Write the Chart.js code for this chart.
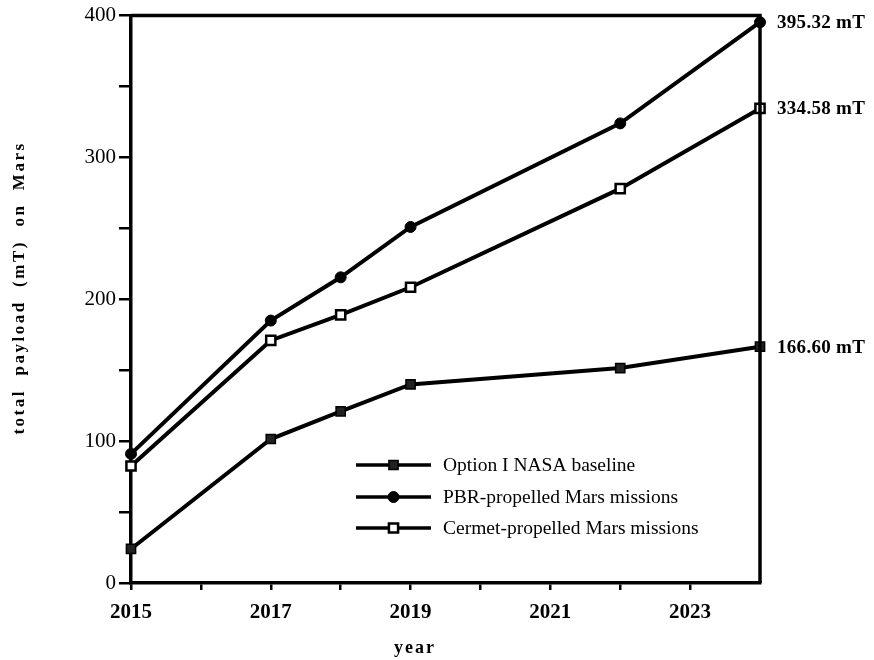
<!DOCTYPE html>
<html>
<head>
<meta charset="utf-8">
<script src="https://cdn.jsdelivr.net/npm/chart.js@4.4.1/dist/chart.umd.min.js"></script>
<style>
  html, body { margin: 0; padding: 0; background: #fff; }
  #wrap { width: 874px; height: 660px; }
</style>
</head>
<body>
<div id="wrap"><canvas id="payloadChart" width="874" height="660"></canvas></div>
<script>
// data
var years = [2015, 2017, 2018, 2019, 2022, 2024];
var nasaBaseline = [24, 101.5, 121, 140, 151.5, 166.6];
var pbrMissions = [91, 185, 215.5, 251, 324, 395.32];
var cermetMissions = [82.5, 171, 189, 208.5, 278, 334.58];
var seriesLabels = ["Option I NASA baseline", "PBR-propelled Mars missions", "Cermet-propelled Mars missions"];
var yTicks = [0, 100, 200, 300, 400];
var xTickLabels = [2015, 2017, 2019, 2021, 2023];

var serif = "'Liberation Serif', 'Times New Roman', serif";

function toPoints(vals) {
  return vals.map(function (v, i) { return { x: years[i], y: v }; });
}

// box around the plot (top and right sides)
var frame = {
  id: "frame",
  afterDraw: function (chart) {
    var a = chart.chartArea, ctx = chart.ctx;
    ctx.save();
    ctx.strokeStyle = "#000";
    ctx.lineWidth = 3.5;
    ctx.beginPath();
    ctx.moveTo(a.left, a.top);
    ctx.lineTo(a.right, a.top);
    ctx.lineTo(a.right, a.bottom);
    ctx.stroke();
    ctx.restore();
  }
};

// value labels at the end of each line
var endLabels = {
  id: "endLabels",
  afterDatasetsDraw: function (chart) {
    var ctx = chart.ctx;
    ctx.save();
    ctx.font = "bold 19px " + serif;
    ctx.fillStyle = "#000";
    ctx.textBaseline = "middle";
    ctx.letterSpacing = "0.3px";
    chart.data.datasets.forEach(function (ds, i) {
      var meta = chart.getDatasetMeta(i);
      var last = meta.data[meta.data.length - 1];
      var v = ds.data[ds.data.length - 1].y;
      ctx.fillText(v.toFixed(2) + " mT", last.x + 17, last.y + 1);
    });
    ctx.restore();
  }
};

// legend with line + marker inside the plot
var lineLegend = {
  id: "lineLegend",
  afterDraw: function (chart) {
    var ctx = chart.ctx;
    var x0 = 356, x1 = 431, tx = 443;
    var rows = [465, 497, 528];
    ctx.save();
    chart.data.datasets.forEach(function (ds, i) {
      var y = rows[i];
      ctx.strokeStyle = "#000";
      ctx.lineWidth = 3.5;
      ctx.beginPath();
      ctx.moveTo(x0, y);
      ctx.lineTo(x1, y);
      ctx.stroke();
      ctx.fillStyle = ds.pointBackgroundColor;
      ctx.strokeStyle = ds.pointBorderColor;
      ctx.lineWidth = ds.pointBorderWidth;
      Chart.helpers.drawPoint(ctx, { pointStyle: ds.pointStyle, radius: ds.pointRadius, borderWidth: ds.pointBorderWidth }, (x0 + x1) / 2, y);
      ctx.fillStyle = "#000";
      ctx.font = "19.5px " + serif;
      ctx.textBaseline = "middle";
      ctx.fillText(ds.label, tx, y + 1);
    });
    ctx.restore();
  }
};

// axis titles with wide letter spacing
var axisTitles = {
  id: "axisTitles",
  afterDraw: function (chart) {
    var ctx = chart.ctx;
    ctx.save();
    ctx.fillStyle = "#000";
    ctx.font = "bold 17px " + serif;
    ctx.letterSpacing = "2.5px";
    ctx.textAlign = "center";
    ctx.textBaseline = "middle";
    ctx.translate(20, 288);
    ctx.rotate(-Math.PI / 2);
    ctx.fillText("total  payload  (mT)  on  Mars", 0, 0);
    ctx.restore();
    ctx.save();
    ctx.fillStyle = "#000";
    ctx.font = "bold 18px " + serif;
    ctx.letterSpacing = "2px";
    ctx.textAlign = "center";
    ctx.textBaseline = "middle";
    ctx.fillText("year", 415, 648);
    ctx.restore();
  }
};

new Chart(document.getElementById("payloadChart").getContext("2d"), {
  type: "line",
  data: {
    datasets: [
      {
        label: seriesLabels[0],
        data: toPoints(nasaBaseline),
        borderColor: "#000",
        borderWidth: 4,
        pointStyle: "rect",
        pointRadius: 6.5,
        pointBackgroundColor: "#222",
        pointBorderColor: "#000",
        pointBorderWidth: 1.5
      },
      {
        label: seriesLabels[1],
        data: toPoints(pbrMissions),
        borderColor: "#000",
        borderWidth: 4,
        pointStyle: "circle",
        pointRadius: 5.5,
        pointBackgroundColor: "#000",
        pointBorderColor: "#000",
        pointBorderWidth: 1
      },
      {
        label: seriesLabels[2],
        data: toPoints(cermetMissions),
        borderColor: "#000",
        borderWidth: 4,
        pointStyle: "rect",
        pointRadius: 6.5,
        pointBackgroundColor: "#fff",
        pointBorderColor: "#000",
        pointBorderWidth: 2.5
      }
    ]
  },
  options: {
    responsive: false,
    animation: false,
    clip: false,
    layout: { padding: { top: 15, right: 114, left: 0, bottom: 0 } },
    plugins: {
      legend: { display: false },
      tooltip: { enabled: false }
    },
    scales: {
      x: {
        type: "linear",
        min: years[0],
        max: years[years.length - 1],
        afterFit: function (scale) { scale.height = 77; },
        afterBuildTicks: function (scale) {
          var t = [];
          for (var yr = years[0]; yr < years[years.length - 1]; yr++) t.push({ value: yr });
          scale.ticks = t;
        },
        ticks: {
          autoSkip: false,
          maxRotation: 0,
          color: "#000",
          padding: 10,
          font: { family: serif, size: 21, weight: "bold" },
          callback: function (v) { return xTickLabels.indexOf(v) >= 0 ? String(v) : ""; }
        },
        grid: { drawOnChartArea: false, drawTicks: true, tickLength: 7, color: "#000", lineWidth: 2.5 },
        border: { display: true, color: "#000", width: 3.5 }
      },
      y: {
        min: yTicks[0],
        max: yTicks[yTicks.length - 1],
        afterFit: function (scale) { scale.width = 131; },
        afterBuildTicks: function (scale) {
          var t = [];
          for (var v = yTicks[0]; v <= yTicks[yTicks.length - 1]; v += 50) t.push({ value: v });
          scale.ticks = t;
        },
        ticks: {
          color: "#000",
          padding: 3,
          font: { family: serif, size: 21 },
          callback: function (v) { return yTicks.indexOf(v) >= 0 ? String(v) : ""; }
        },
        grid: { drawOnChartArea: false, drawTicks: true, tickLength: 12, color: "#000", lineWidth: 2.5 },
        border: { display: true, color: "#000", width: 3.5 }
      }
    }
  },
  plugins: [frame, endLabels, lineLegend, axisTitles]
});
</script>
</body>
</html>
